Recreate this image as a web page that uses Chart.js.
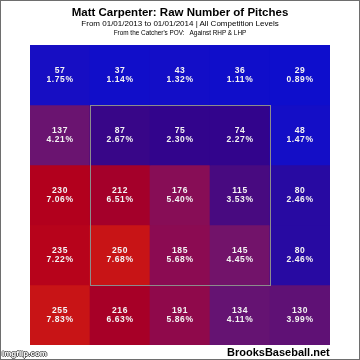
<!DOCTYPE html>
<html>
<head>
<meta charset="utf-8">
<script src="https://cdn.jsdelivr.net/npm/chart.js@4/dist/chart.umd.min.js"></script>
<style>
    html, body { margin: 0; padding: 0; background: #fff; }
    #wrap { position: relative; width: 360px; height: 360px; overflow: hidden; font-family: 'Liberation Sans', Arial, sans-serif; }
    #frame { position: absolute; left: 0; top: 0; width: 360px; height: 360px; box-sizing: border-box; border: 1px solid #6e6e6e; pointer-events: none; }
    .txt { position: absolute; left: 0; width: 360px; text-align: center; color: #000; white-space: pre; }
    #title { top: 6px; font-size: 11.5px; font-weight: bold; }
    #sub1 { top: 19px; font-size: 8px; }
    #sub2 { top: 29px; font-size: 6.4px; }
    #site { position: absolute; left: 227px; top: 346px; font-size: 11px; font-weight: bold; color: #000; }
    #mark { position: absolute; left: 2px; top: 349px; font-size: 8px; font-weight: bold; color: #fff;
            text-shadow: -1px 0 #555, 1px 0 #555, 0 -1px #555, 0 1px #555; }
    canvas { position: absolute; left: 0; top: 0; }
</style>
</head>
<body>
<div id="wrap">
    <canvas id="myChart" width="360" height="360"></canvas>
    <div class="txt" id="title">Matt Carpenter: Raw Number of Pitches</div>
    <div class="txt" id="sub1">From 01/01/2013 to 01/01/2014 | All Competition Levels</div>
    <div class="txt" id="sub2">From the Catcher's POV:   Against RHP &amp; LHP</div>
    <div id="site">BrooksBaseball.net</div>
    <div id="mark">imgflip.com</div>
    <div id="frame"></div>
</div>
<script>
// Zone columns (catcher's view, left to right) and rows (top to bottom)
const zoneCols = ['Far Left', 'Left', 'Middle', 'Right', 'Far Right'];
const zoneRows = ['Above', 'High', 'Middle', 'Low', 'Below'];

// Pitch counts per row
const aboveCounts  = [57, 37, 43, 36, 29];
const highCounts   = [137, 87, 75, 74, 48];
const middleCounts = [230, 212, 176, 115, 80];
const lowCounts    = [235, 250, 185, 145, 80];
const belowCounts  = [255, 216, 191, 134, 130];

const rowCounts = [aboveCounts, highCounts, middleCounts, lowCounts, belowCounts];
const total = rowCounts.flat().reduce((a, b) => a + b, 0);

// blue -> purple -> red colour ramp
const colorStops = [
    [29, [14, 14, 204]],
    [60, [24, 14, 194]],
    [74, [50, 4, 140]],
    [76, [50, 4, 140]],
    [80, [40, 10, 162]],
    [87, [56, 6, 136]],
    [115, [72, 10, 128]],
    [137, [106, 20, 112]],
    [160, [128, 18, 94]],
    [188, [140, 10, 80]],
    [212, [164, 0, 42]],
    [232, [180, 0, 28]],
    [250, [200, 20, 22]],
    [300, [200, 20, 22]]
];

function cellColor(v) {
    for (let i = 0; i < colorStops.length - 1; i++) {
        const [a, ca] = colorStops[i];
        const [b, cb] = colorStops[i + 1];
        if (v <= b) {
            const t = Math.max(0, (v - a) / (b - a));
            const c = ca.map((x, k) => Math.round(x + (cb[k] - x) * t));
            return `rgb(${c[0]}, ${c[1]}, ${c[2]})`;
        }
    }
    return 'rgb(200, 20, 22)';
}

const datasets = rowCounts.map((counts, r) => ({
    label: zoneRows[r],
    data: counts.map(() => [r, r + 1]),
    counts: counts,
    backgroundColor: counts.map(cellColor),
    borderWidth: 0,
    barPercentage: 1,
    categoryPercentage: 1,
    grouped: false
}));

// cell labels: count and share of all pitches
const cellLabels = {
    id: 'cellLabels',
    afterDatasetsDraw(chart) {
        const ctx = chart.ctx;
        ctx.save();
        ctx.fillStyle = '#f4f4f4';
        ctx.font = 'bold 8.5px "Liberation Sans", Arial, sans-serif';
        ctx.letterSpacing = '0.6px';
        ctx.textAlign = 'center';
        ctx.textBaseline = 'middle';
        chart.data.datasets.forEach((ds, i) => {
            chart.getDatasetMeta(i).data.forEach((el, j) => {
                const v = ds.counts[j];
                const cy = (el.y + el.base) / 2;
                ctx.fillText(String(v), el.x, cy - 4);
                ctx.fillText((v / total * 100).toFixed(2) + '%', el.x, cy + 4.5);
            });
        });
        ctx.restore();
    }
};

// strike zone outline around the inner 3x3 cells
const strikeZone = {
    id: 'strikeZone',
    afterDatasetsDraw(chart) {
        const x = chart.scales.x, y = chart.scales.y;
        const left = (x.getPixelForValue(0) + x.getPixelForValue(1)) / 2;
        const right = (x.getPixelForValue(3) + x.getPixelForValue(4)) / 2;
        const top = y.getPixelForValue(1);
        const bottom = y.getPixelForValue(4);
        const ctx = chart.ctx;
        ctx.save();
        ctx.strokeStyle = '#8c8c8c';
        ctx.lineWidth = 1;
        ctx.strokeRect(Math.round(left) + 0.5, Math.round(top) + 0.5, right - left, bottom - top);
        ctx.restore();
    }
};

const ctx = document.getElementById('myChart').getContext('2d');
const myChart = new Chart(ctx, {
    type: 'bar',
    data: { labels: zoneCols, datasets: datasets },
    options: {
        responsive: false,
        animation: false,
        devicePixelRatio: 1,
        layout: { padding: { left: 30, right: 30, top: 45, bottom: 15 } },
        scales: {
            x: { display: false },
            y: { display: false, min: 0, max: 5, reverse: true }
        },
        plugins: {
            legend: { display: false },
            tooltip: { enabled: false }
        }
    },
    plugins: [cellLabels, strikeZone]
});
</script>
</body>
</html>
